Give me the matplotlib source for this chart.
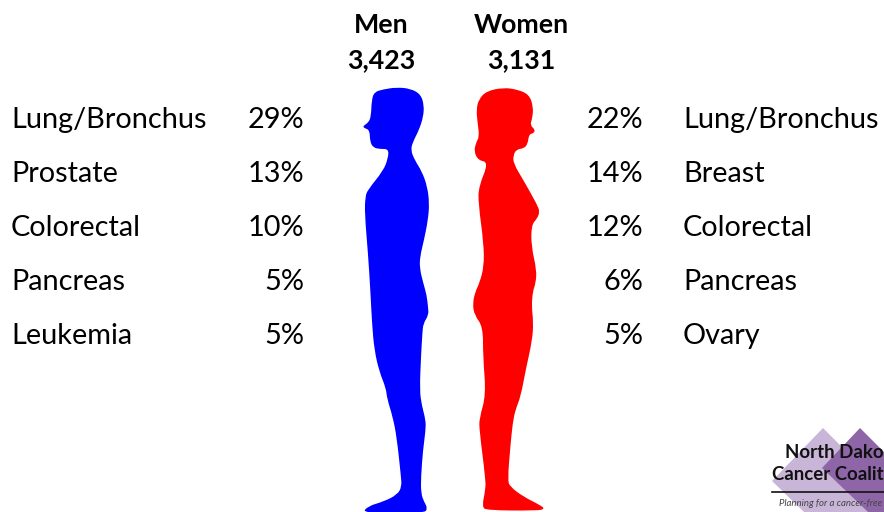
import matplotlib
matplotlib.use('Agg')
import matplotlib.pyplot as plt
from matplotlib.path import Path
from matplotlib.patches import PathPatch, Polygon

plt.rcParams['font.family'] = ['Lato', 'DejaVu Sans']

men_sites = ['Lung/Bronchus', 'Prostate', 'Colorectal', 'Pancreas', 'Leukemia']
men_pct = [29, 13, 10, 5, 5]
women_sites = ['Lung/Bronchus', 'Breast', 'Colorectal', 'Pancreas', 'Ovary']
women_pct = [22, 14, 12, 6, 5]
totals = [('Men', '3,423'), ('Women', '3,131')]

# silhouette outlines in pixels
man_top = [(170,22),(212,26),(242,43),(252,75),(250,110),(237,150),(219,185),(212,210),(224,240),
           (246,275),(262,320),(268,370),(264,420),(252,480),(240,530),(239,565),(250,610),(260,645)]
man_low = [(264,50),(266,75),(250,100),(247,130),(243,200),(239,300),(245,345),(257,390),(257,420),
           (249,480),(243,560),(243,610),(252,635),(263,655),(252,670),(65,670),(85,648),(130,635),
           (172,614),(185,590),(183,560),(170,440),(158,380),(141,325),(138,295),(118,245),(103,180),(96,100),(91,0)]
man_back = [(84,520),(74,400),(76,350),(83,330),(130,272),(144,235),(146,207),(120,207),(100,203),
            (90,185),(89,150),(72,144),(69,138),(85,128),(93,110),(95,60),(103,36),(130,28)]

woman_top = [(490,23),(530,28),(567,43),(580,80),(577,115),(570,135),(586,150),(580,160),(567,163),(563,192),
             (552,205),(530,208),(520,225),(520,250),(550,300),(592,375),(599,395),(592,415),(574,435),(574,500),
             (590,570),(587,610)]
woman_low = [(578,5),(575,50),(580,95),(577,150),(557,240),(542,320),(526,360),(518,400),(511,470),(503,570),(510,590),
             (550,620),(600,645),(615,657),(590,662),(440,661),(426,650),(436,600),(437,570),(418,420),(418,385),
             (438,315),(429,200),(429,110),(403,75),(398,40),(406,5)]
woman_back = [(418,610),(432,560),(431,490),(415,370),(416,320),(446,247),(415,241),(402,215),(408,188),
              (418,170),(413,130),(409,90),(416,58),(440,33)]


def to_px(points, y0):
    return [(340 + x / 3, y0 + y / 3) for x, y in points]


def smooth_shape(pts):
    # points act as quadratic control points, so the outline stays round
    mid = lambda a, b: ((a[0] + b[0]) / 2, (a[1] + b[1]) / 2)
    verts = [mid(pts[-1], pts[0])]
    codes = [Path.MOVETO]
    for i, p in enumerate(pts):
        verts += [p, mid(p, pts[(i + 1) % len(pts)])]
        codes += [Path.CURVE3, Path.CURVE3]
    return Path(verts, codes)


fig = plt.figure(figsize=(8.84, 5.12), dpi=100)
ax = fig.add_axes([0, 0, 1, 1])
ax.set_xlim(0, 884)
ax.set_ylim(512, 0)
ax.axis('off')

man = to_px(man_top, 80) + to_px(man_low, 290) + to_px(man_back, 80)
woman = to_px(woman_top, 80) + to_px(woman_low, 290) + to_px(woman_back, 80)
ax.add_patch(PathPatch(smooth_shape(man), fc='#0000ff', ec='none'))
ax.add_patch(PathPatch(smooth_shape(woman), fc='#ff0000', ec='none'))

# headers
for (name, total), x in zip(totals, [381.5, 521.5]):
    ax.text(x, 25, name, ha='center', va='center', fontsize=19.3, fontweight='bold', color='black')
    ax.text(x, 60, total, ha='center', va='center', fontsize=19.3, fontweight='bold', color='black')

# rows
row_y = [120, 174, 228, 282, 336]
for i, y in enumerate(row_y):
    ax.text(11, y, men_sites[i], ha='left', va='center', fontsize=20.8)
    ax.text(304, y, f'{men_pct[i]}%', ha='right', va='center', fontsize=20.8)
    ax.text(643, y, f'{women_pct[i]}%', ha='right', va='center', fontsize=20.8)
    ax.text(683, y, women_sites[i], ha='left', va='center', fontsize=20.8)

# logo in the corner, runs off the slide
ax.add_patch(Polygon([(823, 428), (907, 512), (804, 512), (772, 481)], fc='#c9b5d8', ec='none'))
ax.add_patch(Polygon([(860, 428), (884, 452), (884, 512), (868, 512), (822, 468)], fc='#8e66a8', ec='none'))
ax.text(785, 452, 'North Dako', ha='left', va='center', fontsize=13.4, fontweight='bold', color='#111111')
ax.text(772, 474, 'Cancer Coalit', ha='left', va='center', fontsize=13.4, fontweight='bold', color='#111111')
ax.plot([772, 884], [491.5, 491.5], color='#111111', lw=1.2)
ax.text(779, 504, 'Planning for a cancer-free', ha='left', va='center', fontsize=6.9,
        style='italic', color='#444444')

fig.savefig('out.png', dpi=100)
